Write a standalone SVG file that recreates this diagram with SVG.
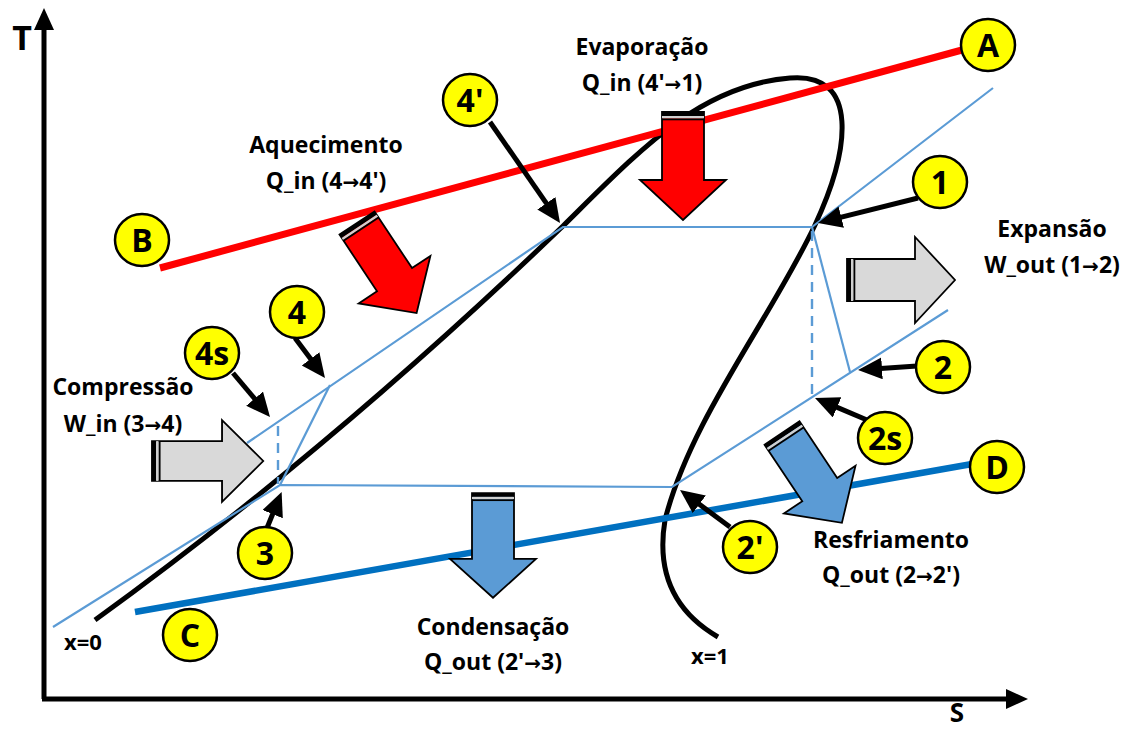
<svg xmlns="http://www.w3.org/2000/svg" width="1141" height="729" viewBox="0 0 1141 729">
<style>
.lbl{font-family:"Open Sans","Liberation Sans",sans-serif;font-weight:bold;font-size:23px;fill:#000;text-anchor:middle}
.ar{font-family:"DejaVu Sans",sans-serif;font-size:20px}
.ax{font-family:"Open Sans","Liberation Sans",sans-serif;font-weight:bold;font-size:34px;fill:#000;text-anchor:middle}
.q{font-family:"Open Sans","Liberation Sans",sans-serif;font-weight:bold;font-size:22px;fill:#000;text-anchor:middle}
.pt ellipse{fill:#FFFF00;stroke:#000;stroke-width:2.5}
.pt text{font-family:"Open Sans","Liberation Sans",sans-serif;font-weight:bold;font-size:32px;fill:#000;text-anchor:middle}
.thin{stroke:#5B9BD5;stroke-width:2.2;fill:none}
.dash{stroke:#5B9BD5;stroke-width:2.4;fill:none;stroke-dasharray:10,7}
.lead{stroke:#000;stroke-width:5;fill:none;marker-end:url(#ah)}
</style>
<defs>
<marker id="ah" markerUnits="userSpaceOnUse" markerWidth="26" markerHeight="24" refX="5" refY="11" orient="auto" viewBox="0 0 26 24">
<path d="M0,0 L24,11 L0,22 Z" fill="#000"/>
</marker>
<g id="fa">
<path d="M0,-21 H68 V-43 L108,0 L68,43 V21 H0 Z" stroke="#000" stroke-width="1.8" stroke-linejoin="miter"/>
<rect x="0" y="-21" width="4" height="42" fill="#000"/>
<rect x="4" y="-21" width="2.5" height="42" fill="#d0d0d0"/>
<rect x="6.5" y="-21" width="1.8" height="42" fill="#000"/>
</g>
</defs>
<rect width="1141" height="729" fill="#fff"/>

<g id="axes">
<line x1="44" y1="28" x2="44" y2="699" stroke="#000" stroke-width="5"/>
<polygon points="44,8 34,30 54,30" fill="#000"/>
<line x1="42" y1="699" x2="1008" y2="699" stroke="#000" stroke-width="5"/>
<polygon points="1028,699 1006,689 1006,709" fill="#000"/>
<text class="ax" x="22" y="50">T</text>
<text class="ax" x="957" y="722" style="font-size:26px">S</text>
</g>

<g id="connectors">
<path id="dome" d="M95,620 Q330,450 563,226 C640,150 700,85 790,78 C860,72 850,150 815,225 C770,320 690,420 665,520 C655,580 680,615 718,637" stroke="#000" stroke-width="5" fill="none"/>
<line id="lineBA" x1="160" y1="268" x2="962" y2="50" stroke="#FF0000" stroke-width="7"/>
<line id="lineCD" x1="135" y1="612" x2="972" y2="464" stroke="#0070C0" stroke-width="6.5"/>
<polyline class="thin" points="53,627 280,485 672,487 948,310"/>
<polyline class="thin" points="247,443 563,227 812,227 993,88"/>
<line class="thin" x1="280" y1="485" x2="330" y2="385"/>
<line class="thin" x1="812" y1="227" x2="850" y2="372"/>
<line class="dash" x1="278" y1="426" x2="278" y2="484"/>
<line class="dash" x1="812" y1="231" x2="812" y2="396"/>
<line class="lead" x1="490" y1="122" x2="549.2" y2="207.4"/>
<line class="lead" x1="918" y1="198" x2="836.4" y2="218.4"/>
<line class="lead" x1="295" y1="338" x2="313.6" y2="362.8"/>
<line class="lead" x1="233" y1="373" x2="257.8" y2="402.5"/>
<line class="lead" x1="267" y1="528" x2="274.5" y2="509.5"/>
<line class="lead" x1="730" y1="527" x2="695.3" y2="501.3"/>
<line class="lead" x1="917" y1="366" x2="877" y2="368.7"/>
<line class="lead" x1="867" y1="420" x2="832.5" y2="405.4"/>
</g>

<g id="arrow-aquecimento"><use href="#fa" fill="#FF0000" transform="translate(357,223) rotate(56.5)"/></g>
<g id="arrow-evaporacao"><use href="#fa" fill="#FF0000" transform="translate(683,112) rotate(90)"/></g>
<g id="arrow-expansao"><use href="#fa" fill="#D9D9D9" transform="translate(847,280)"/></g>
<g id="arrow-compressao"><use href="#fa" fill="#D9D9D9" transform="translate(152,461) scale(1.03,0.95)"/></g>
<g id="arrow-condensacao"><use href="#fa" fill="#5B9BD5" transform="translate(493,493) rotate(90) scale(0.97,1)"/></g>
<g id="arrow-resfriamento"><use href="#fa" fill="#5B9BD5" transform="translate(782,433) rotate(56.3)"/></g>

<g id="pt-A" class="pt"><ellipse cx="988" cy="45" rx="27" ry="26"/><text x="988" y="57">A</text></g>
<g id="pt-B" class="pt"><ellipse cx="142" cy="240" rx="27" ry="26"/><text x="142" y="252">B</text></g>
<g id="pt-C" class="pt"><ellipse cx="190" cy="635" rx="27" ry="26"/><text x="190" y="647">C</text></g>
<g id="pt-D" class="pt"><ellipse cx="997" cy="467" rx="27" ry="26"/><text x="997" y="479">D</text></g>
<g id="pt-1" class="pt"><ellipse cx="940" cy="182" rx="27" ry="26"/><text x="940" y="194">1</text></g>
<g id="pt-2" class="pt"><ellipse cx="943" cy="367" rx="27" ry="26"/><text x="943" y="379">2</text></g>
<g id="pt-2s" class="pt"><ellipse cx="885" cy="438" rx="27" ry="26"/><text x="885" y="450">2s</text></g>
<g id="pt-2p" class="pt"><ellipse cx="750" cy="547" rx="27" ry="26"/><text x="750" y="559">2'</text></g>
<g id="pt-3" class="pt"><ellipse cx="265" cy="553" rx="27" ry="26"/><text x="265" y="565">3</text></g>
<g id="pt-4" class="pt"><ellipse cx="297" cy="312" rx="27" ry="26"/><text x="297" y="324">4</text></g>
<g id="pt-4s" class="pt"><ellipse cx="212" cy="353" rx="27" ry="26"/><text x="212" y="365">4s</text></g>
<g id="pt-4p" class="pt"><ellipse cx="470" cy="100" rx="27" ry="26"/><text x="470" y="112">4'</text></g>

<g id="labels">
<text class="lbl" x="326" y="153">Aquecimento</text>
<text class="lbl" x="326" y="189">Q_in (4<tspan class="ar">→</tspan>4')</text>
<text class="lbl" x="642" y="55">Evaporação</text>
<text class="lbl" x="642" y="91">Q_in (4'<tspan class="ar">→</tspan>1)</text>
<text class="lbl" x="1052" y="237">Expansão</text>
<text class="lbl" x="1052" y="273">W_out (1<tspan class="ar">→</tspan>2)</text>
<text class="lbl" x="123" y="395">Compressão</text>
<text class="lbl" x="123" y="432">W_in (3<tspan class="ar">→</tspan>4)</text>
<text class="lbl" x="493" y="635">Condensação</text>
<text class="lbl" x="493" y="670">Q_out (2'<tspan class="ar">→</tspan>3)</text>
<text class="lbl" x="891" y="548">Resfriamento</text>
<text class="lbl" x="891" y="583">Q_out (2<tspan class="ar">→</tspan>2')</text>
<text class="q" x="83" y="650">x=0</text>
<text class="q" x="710" y="664">x=1</text>
</g>
</svg>
